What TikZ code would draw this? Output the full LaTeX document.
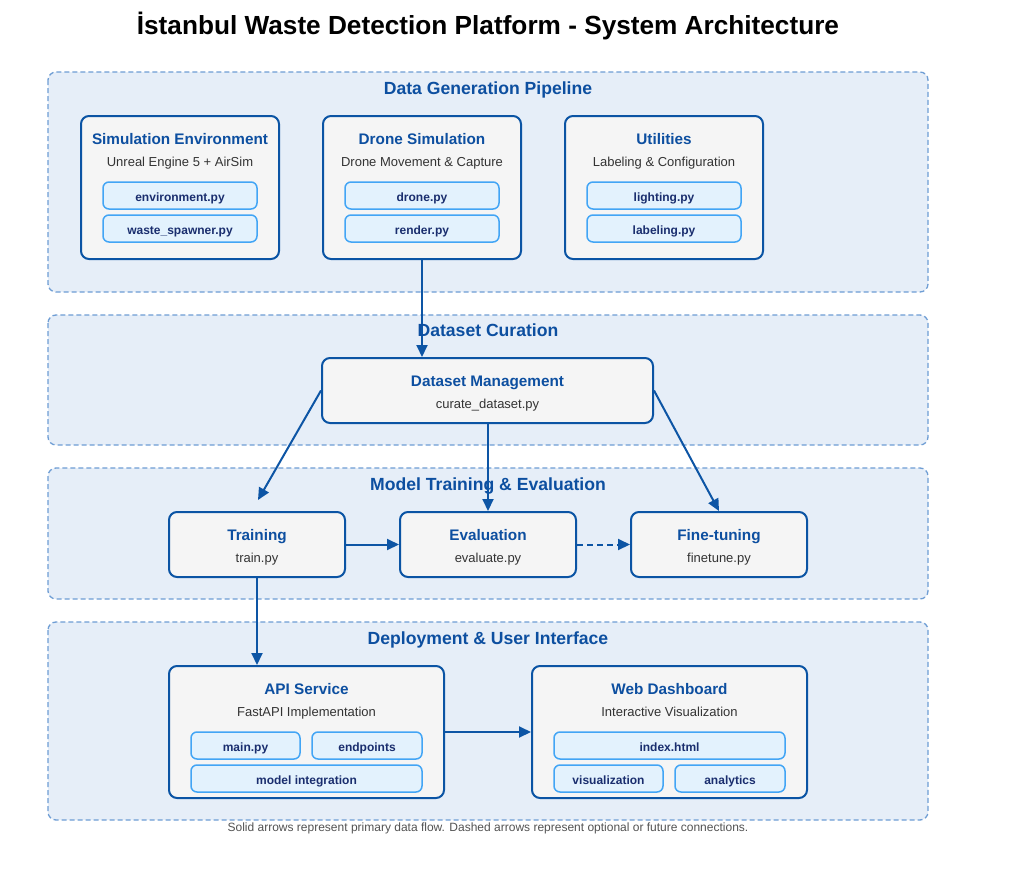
\documentclass[tikz,border=0pt]{standalone}
\usepackage{fontspec}
\setmainfont{Liberation Sans}
\usetikzlibrary{arrows.meta}
\definecolor{panelfill}{HTML}{E6EEF8}
\definecolor{paneldraw}{HTML}{6E9DD4}
\definecolor{boxfill}{HTML}{F5F5F5}
\definecolor{boxdraw}{HTML}{0B54A4}
\definecolor{subfill}{HTML}{E3F2FD}
\definecolor{subdraw}{HTML}{42A5F5}
\definecolor{titleblue}{HTML}{0D4FA0}
\definecolor{subtext}{HTML}{1A2E6E}
\definecolor{desctext}{HTML}{333333}
\definecolor{arrowblue}{HTML}{0D55A5}
\tikzset{
  panel/.style={draw=paneldraw, fill=panelfill, dash pattern=on 5pt off 3pt, line width=1.3pt, rounded corners=8pt},
  panelttl/.style={anchor=base, text=titleblue, font=\fontsize{17.6}{20}\selectfont\bfseries, inner sep=0pt},
  box/.style={draw=boxdraw, fill=boxfill, line width=2pt, rounded corners=8pt},
  boxttl/.style={anchor=base, text=titleblue, font=\fontsize{15.3}{17}\selectfont\bfseries, inner sep=0pt},
  desc/.style={anchor=base, text=desctext, font=\fontsize{13}{15}\selectfont, inner sep=0pt},
  sub/.style={draw=subdraw, fill=subfill, line width=1.5pt, rounded corners=6pt, text=subtext, font=\fontsize{12}{14}\selectfont\bfseries, text height=12pt, text depth=0pt},
  flow/.style={draw=arrowblue, line width=2pt, -{Triangle[length=12pt,width=11pt]}},
}
\begin{document}
\begin{tikzpicture}[x=1pt,y=-1pt]
\useasboundingbox (0,0) rectangle (1021,881);
% title
\node[anchor=base, inner sep=0pt, font=\fontsize{26.2}{30}\selectfont\bfseries] (title) at (488,34) {İstanbul Waste Detection Platform - System Architecture};
% panels
\draw[panel] (48,72) rectangle (928,292);
\draw[panel] (48,315) rectangle (928,445);
\draw[panel] (48,468) rectangle (928,599);
\draw[panel] (48,622) rectangle (928,820);
\node[panelttl] (p1) at (488,94) {Data Generation Pipeline};
\node[panelttl] (p3) at (488,490) {Model Training \& Evaluation};
\node[panelttl] (p4) at (488,644) {Deployment \& User Interface};

% Data generation boxes
\node[box, minimum width=198pt, minimum height=143pt] (sim) at (180,187.5) {};
\node[boxttl] (simt) at (180,144) {Simulation Environment};
\node[desc] (simd) at (180,166) {Unreal Engine 5 + AirSim};
\node[sub, minimum width=154pt, minimum height=27pt] (env) at (180,195.5) {environment.py};
\node[sub, minimum width=154pt, minimum height=27pt] (wsp) at (180,228.5) {waste\_spawner.py};

\node[box, minimum width=198pt, minimum height=143pt] (drone) at (422,187.5) {};
\node[boxttl] (dronet) at (422,144) {Drone Simulation};
\node[desc] (droned) at (422,166) {Drone Movement \& Capture};
\node[sub, minimum width=154pt, minimum height=27pt] (dpy) at (422,195.5) {drone.py};
\node[sub, minimum width=154pt, minimum height=27pt] (rpy) at (422,228.5) {render.py};

\node[box, minimum width=198pt, minimum height=143pt] (util) at (664,187.5) {};
\node[boxttl] (utilt) at (664,144) {Utilities};
\node[desc] (utild) at (664,166) {Labeling \& Configuration};
\node[sub, minimum width=154pt, minimum height=27pt] (lpy) at (664,195.5) {lighting.py};
\node[sub, minimum width=154pt, minimum height=27pt] (lbpy) at (664,228.5) {labeling.py};

% Dataset management
\node[box, minimum width=331pt, minimum height=65pt] (dm) at (487.5,390.5) {};
\node[boxttl] (dmt) at (487.5,386) {Dataset Management};
\node[desc] (dmd) at (487.5,408) {curate\_dataset.py};
\draw[flow] (drone.south) -- (dm.north -| drone.south);
\node[panelttl] (p2) at (488,336) {Dataset Curation};

% Training row
\node[box, minimum width=176pt, minimum height=65pt] (train) at (257,544.5) {};
\node[boxttl] (traint) at (257,540) {Training};
\node[desc] (traind) at (257,562) {train.py};
\node[box, minimum width=176pt, minimum height=65pt] (eval) at (488,544.5) {};
\node[boxttl] (evalt) at (488,540) {Evaluation};
\node[desc] (evald) at (488,562) {evaluate.py};
\node[box, minimum width=176pt, minimum height=65pt] (ft) at (719,544.5) {};
\node[boxttl] (ftt) at (719,540) {Fine-tuning};
\node[desc] (ftd) at (719,562) {finetune.py};

\coordinate (trainin) at (258,500);
\draw[flow] (dm.west) -- (trainin);
\draw[flow] (dm.south -| eval.north) -- (eval.north);
\draw[flow] (dm.east) -- (ft.north);
\draw[flow] (train.east) -- (eval.west);
\draw[flow, dash pattern=on 6pt off 4pt] (eval.east) -- (ft.west);

% Deployment
\node[box, minimum width=275pt, minimum height=132pt] (api) at (306.5,732) {};
\node[boxttl] (apit) at (306.5,694) {API Service};
\node[desc] (apid) at (306.5,716) {FastAPI Implementation};
\node[sub, minimum width=109pt, minimum height=27pt] (mainpy) at (245.5,745.5) {main.py};
\node[sub, minimum width=110pt, minimum height=27pt] (endp) at (367,745.5) {endpoints};
\node[sub, minimum width=231pt, minimum height=27pt] (modint) at (306.5,778.5) {model integration};

\node[box, minimum width=275pt, minimum height=132pt] (web) at (669.5,732) {};
\node[boxttl] (webt) at (669.5,694) {Web Dashboard};
\node[desc] (webd) at (669.5,716) {Interactive Visualization};
\node[sub, minimum width=231pt, minimum height=27pt] (idx) at (669.5,745.5) {index.html};
\node[sub, minimum width=109pt, minimum height=27pt] (vis) at (608.5,778.5) {visualization};
\node[sub, minimum width=110pt, minimum height=27pt] (ana) at (730,778.5) {analytics};

\draw[flow] (train.south) -- (api.north -| train.south);
\draw[flow] (api.east) -- (web.west);

\node[anchor=base, inner sep=0pt, text=desctext!85, font=\fontsize{12}{14}\selectfont] (foot) at (488,831) {Solid arrows represent primary data flow. Dashed arrows represent optional or future connections.};
\end{tikzpicture}
\end{document}
